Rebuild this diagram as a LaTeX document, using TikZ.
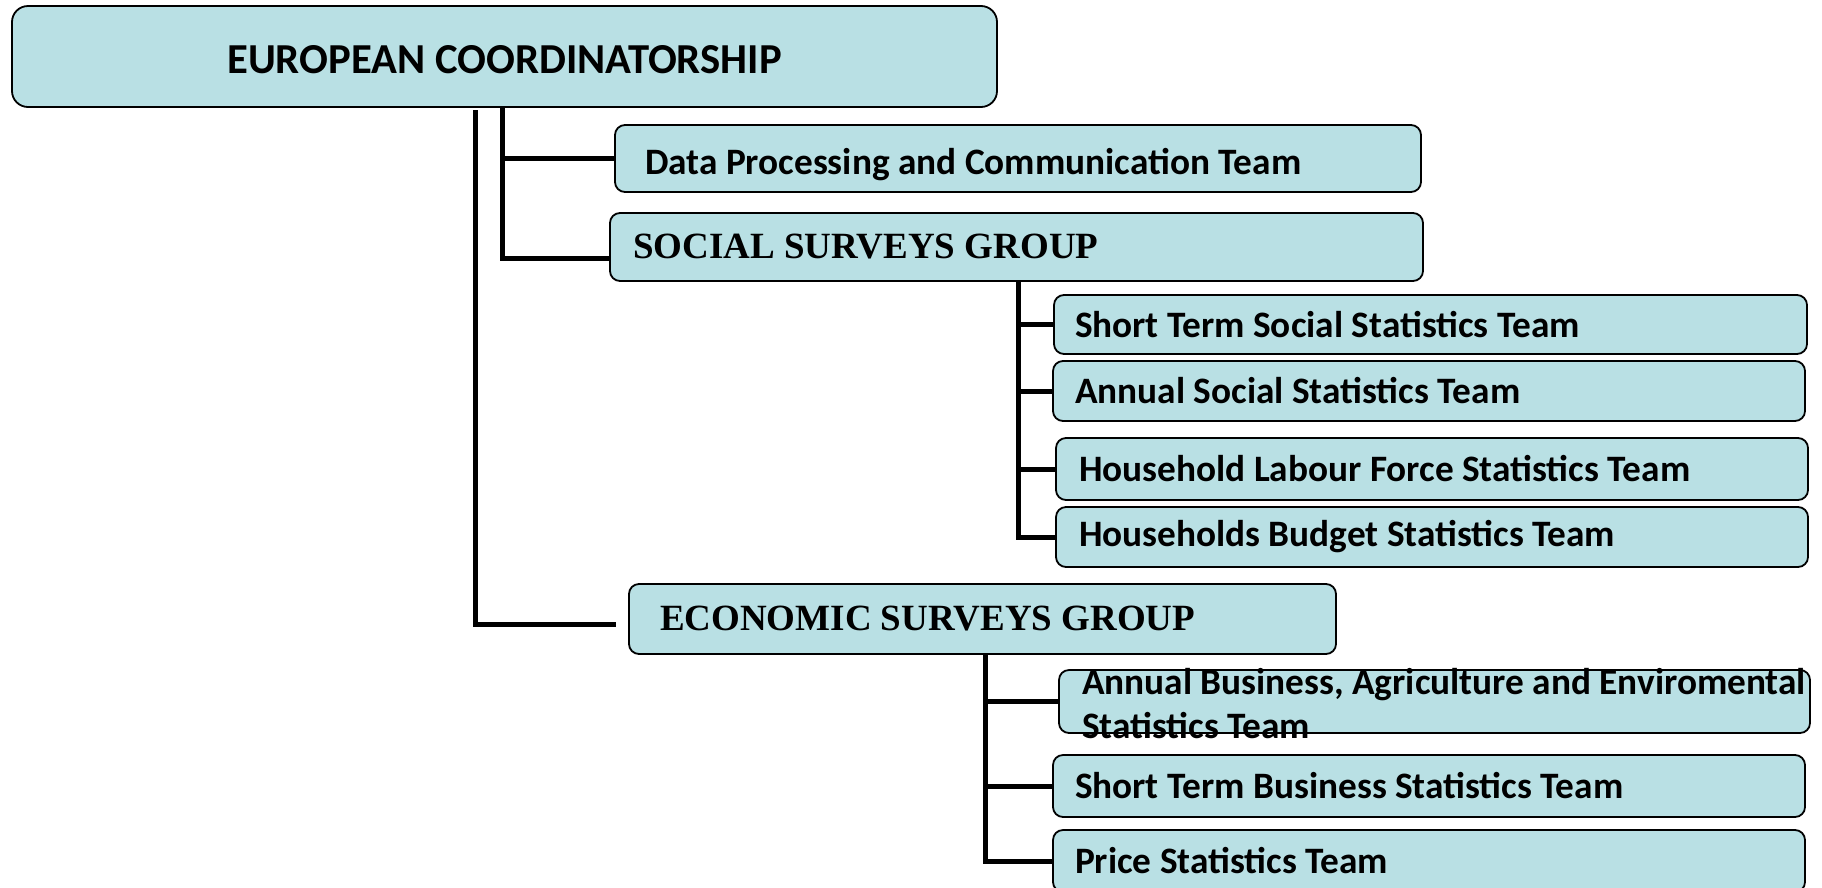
\documentclass[tikz,border=0pt]{standalone}
\usepackage{fontspec}
\setmainfont{Carlito}
\newfontfamily\timesfont{Liberation Serif}
\usepackage{tikz}
\usepackage{color}
\definecolor{boxblue}{RGB}{185,224,228}

\begin{document}
\begin{tikzpicture}[x=1pt,y=-1pt]
        \tikzstyle{main node}=[draw,line width=1.8pt,fill=boxblue,rounded corners=10pt,outer sep=0pt,anchor=north west,align=flush left,font=\bfseries\fontsize{37.3}{44}\selectfont]
        \tikzstyle{group node}=[main node,font=\timesfont\bfseries\fontsize{37}{44}\selectfont]
        \tikzstyle{link}=[line width=5pt]
        \useasboundingbox (0,0) rectangle (1822,887);
        \clip (0,0) rectangle (1822,887);

        \node[main node,rounded corners=16pt,align=center,minimum width=985,minimum height=101,font=\bfseries\fontsize{42.7}{50}\selectfont] (EC) at (12,6) {\raisebox{-3pt}[\height][\depth]{EUROPEAN COORDINATORSHIP}};
        \node[main node,minimum width=806,minimum height=67,inner xsep=30,text width=746] (DPCT) at (615,125) {\raisebox{-6pt}[\height][\depth]{Data Processing and Communication Team}};
        \node[group node,minimum width=813,minimum height=68,inner xsep=23,text width=767] (SSG) at (610,213) {SOCIAL SURVEYS GROUP};
        \node[main node,minimum width=753,minimum height=59,inner xsep=21,text width=711] (STSST) at (1054,295) {Short Term Social Statistics Team};
        \node[main node,minimum width=752,minimum height=60,inner xsep=22,text width=708] (ASST) at (1053,361) {Annual Social Statistics Team};
        \node[main node,minimum width=752,minimum height=62,inner xsep=23,text width=706] (HLFST) at (1056,438) {Household Labour Force Statistics Team};
        \node[main node,minimum width=752,minimum height=60,inner xsep=23,text width=706] (HBST) at (1056,507) {Households Budget Statistics Team};
        \node[group node,minimum width=707,minimum height=70,inner xsep=31,text width=645] (ESG) at (629,584) {ECONOMIC SURVEYS GROUP};
        \node[main node,minimum width=751,minimum height=63,inner xsep=23,text width=705] (ABAEST) at (1059,670) {\smash{\raisebox{-12pt}{\begin{tabular}{@{}l@{}}Annual Business, Agriculture and Enviromental\\Statistics Team\end{tabular}}}};
        \node[main node,minimum width=752,minimum height=62,inner xsep=22,text width=708] (STBST) at (1053,755) {Short Term Business Statistics Team};
        \node[main node,minimum width=752,minimum height=62,inner xsep=22,text width=708] (PST) at (1053,830) {Price Statistics Team};

        \coordinate (ECa) at (502,107);
        \coordinate (ECb) at (475,110);
        \coordinate (SSGa) at (1018,281);
        \coordinate (ESGa) at (985,654);

        \draw[link] (ECa) |- (DPCT.west);
        \draw[link] (ECa) |- ([yshift=-11pt]SSG.west);
        \draw[link] (ECb) |- ([xshift=-13pt,yshift=-5pt]ESG.west);
        \draw[link] (SSGa) |- (STSST.west);
        \draw[link] (SSGa) |- (ASST.west);
        \draw[link] (SSGa) |- (HLFST.west);
        \draw[link] (SSGa) |- (HBST.west);
        \draw[link] (ESGa) |- (ABAEST.west);
        \draw[link] (ESGa) |- (STBST.west);
        \draw[link] (ESGa) |- (PST.west);
    \end{tikzpicture}
\end{document}
